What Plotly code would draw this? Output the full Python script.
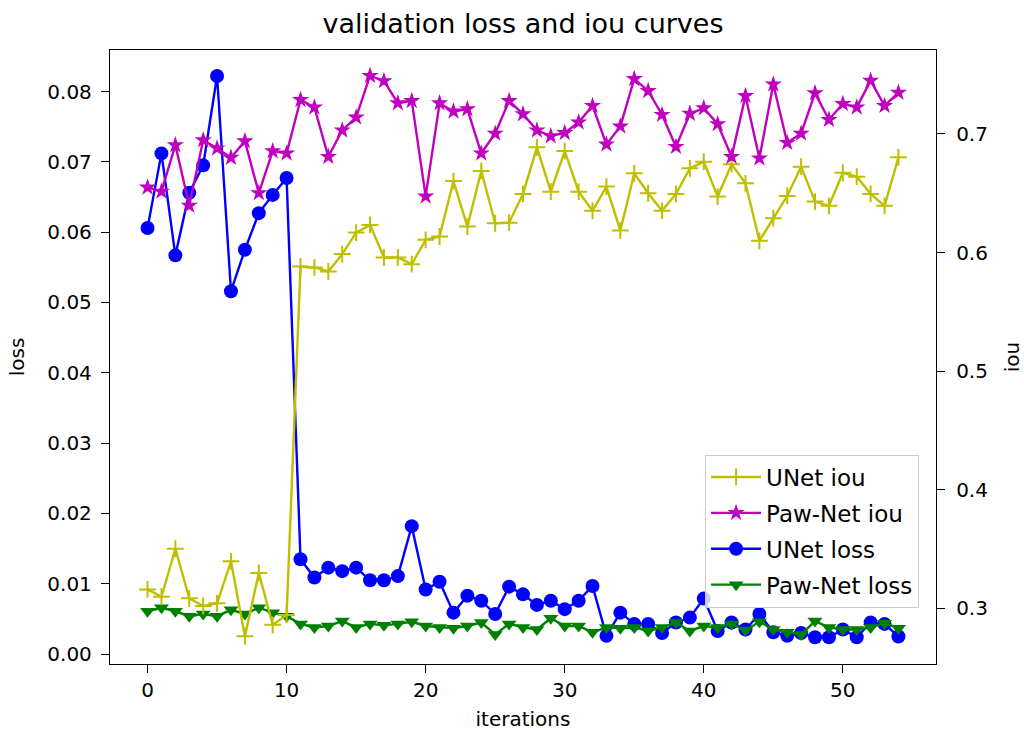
import plotly.graph_objects as go

iterations = list(range(55))

unet_loss = [0.0606, 0.0712, 0.0567, 0.0656, 0.0695, 0.0822, 0.0516, 0.0575, 0.0627, 0.0653, 0.0677,
             0.0135, 0.0109, 0.0123, 0.0118, 0.0123, 0.0105, 0.0105, 0.0111, 0.0182, 0.0092,
             0.0103, 0.0059, 0.0083, 0.0076, 0.0057, 0.0096, 0.0085, 0.0070, 0.0076, 0.0064,
             0.0076, 0.0097, 0.0026, 0.0059, 0.0043, 0.0043, 0.0030, 0.0045, 0.0052, 0.0079,
             0.0033, 0.0045, 0.0035, 0.0057, 0.0031, 0.0026, 0.0030, 0.0024, 0.0024, 0.0035,
             0.0024, 0.0045, 0.0043, 0.0025]

pawnet_loss = [0.0061, 0.0066, 0.0061, 0.0054, 0.0057, 0.0054, 0.0063, 0.0057, 0.0066, 0.0059, 0.0054,
               0.0043, 0.0038, 0.0040, 0.0047, 0.0038, 0.0043, 0.0041, 0.0043, 0.0046, 0.0040,
               0.0038, 0.0037, 0.0040, 0.0045, 0.0028, 0.0043, 0.0038, 0.0035, 0.0051, 0.0040,
               0.0040, 0.0031, 0.0038, 0.0037, 0.0038, 0.0033, 0.0038, 0.0045, 0.0033, 0.0040,
               0.0038, 0.0043, 0.0034, 0.0046, 0.0035, 0.0031, 0.0028, 0.0047, 0.0038, 0.0035,
               0.0035, 0.0038, 0.0044, 0.0037]

unet_iou = [0.3159, 0.3097, 0.3502, 0.3084, 0.3019, 0.3042, 0.3396, 0.2763, 0.3298, 0.2860, 0.2944,
            0.5882, 0.5874, 0.5840, 0.5987, 0.6168, 0.6233, 0.5958, 0.5958, 0.5902, 0.6107,
            0.6135, 0.6603, 0.6219, 0.6688, 0.6247, 0.6252, 0.6494, 0.6887, 0.6513, 0.6856,
            0.6513, 0.6352, 0.6556, 0.6185, 0.6668, 0.6500, 0.6352, 0.6494, 0.6710, 0.6766,
            0.6472, 0.6745, 0.6584, 0.6099, 0.6290, 0.6477, 0.6724, 0.6430, 0.6394, 0.6673,
            0.6640, 0.6494, 0.6394, 0.6803]

pawnet_iou = [0.6549, 0.6515, 0.6906, 0.6396, 0.6948, 0.6879, 0.6800, 0.6940, 0.6502, 0.6856, 0.6837,
              0.7288, 0.7224, 0.6808, 0.7031, 0.7140, 0.7491, 0.7447, 0.7260, 0.7279, 0.6474,
              0.7260, 0.7190, 0.7210, 0.6837, 0.7004, 0.7279, 0.7168, 0.7031, 0.6982, 0.7009,
              0.7098, 0.7238, 0.6912, 0.7064, 0.7464, 0.7363, 0.7162, 0.6892, 0.7171, 0.7218,
              0.7084, 0.6808, 0.7321, 0.6795, 0.7419, 0.6926, 0.7004, 0.7344, 0.7120, 0.7254,
              0.7224, 0.7450, 0.7238, 0.7349]

x_ticks = [0, 10, 20, 30, 40, 50]
loss_ticks = [0.00, 0.01, 0.02, 0.03, 0.04, 0.05, 0.06, 0.07, 0.08]
iou_ticks = [0.3, 0.4, 0.5, 0.6, 0.7]

FONT = "DejaVu Sans"
LW = 2.4

fig = go.Figure()
fig.add_trace(go.Scatter(x=iterations, y=unet_iou, name="UNet iou", yaxis="y2", mode="lines+markers",
                         legendgroup="a",
                         line=dict(color="#bfbf00", width=LW),
                         marker=dict(symbol="cross-thin", size=12, color="#bfbf00",
                                     line=dict(color="#bfbf00", width=2))))
fig.add_trace(go.Scatter(x=iterations, y=pawnet_iou, name="Paw-Net iou", yaxis="y2", mode="lines+markers",
                         legendgroup="b",
                         line=dict(color="#bf00bf", width=LW),
                         marker=dict(symbol="star", size=13, color="#bf00bf")))
fig.add_trace(go.Scatter(x=iterations, y=unet_loss, name="UNet loss", yaxis="y", mode="lines+markers",
                         legendgroup="c",
                         line=dict(color="#0000ff", width=LW),
                         marker=dict(symbol="circle", size=14, color="#0000ff")))
fig.add_trace(go.Scatter(x=iterations, y=pawnet_loss, name="Paw-Net loss", yaxis="y", mode="lines+markers",
                         legendgroup="d",
                         line=dict(color="#008000", width=LW),
                         marker=dict(symbol="triangle-down", size=13, color="#008000")))

axis_common = dict(showgrid=False, zeroline=False, showline=True, linecolor="black", linewidth=1.3,
                   ticks="outside", ticklen=8, tickwidth=1.3, tickcolor="black", automargin=False,
                   tickfont=dict(family=FONT, size=20, color="#000000"))

fig.update_layout(
    width=1024, height=736,
    margin=dict(l=110, r=88, t=50, b=72),
    paper_bgcolor="white", plot_bgcolor="white",
    font=dict(family=FONT, color="#000000"),
    title=dict(text="validation loss and iou curves", x=0.5, xref="paper", xanchor="center",
               y=1 - 24 / 736, yanchor="middle", font=dict(family=FONT, size=27, color="#000000")),
    xaxis=dict(range=[-2.7, 56.7], tickvals=x_ticks, mirror=True,
               title=dict(text="iterations", font=dict(family=FONT, size=20), standoff=10),
               **axis_common),
    yaxis=dict(range=[-0.0014, 0.0859], tickvals=loss_ticks, tickformat=".2f", ticklabelstandoff=5,
               title=dict(text="loss", font=dict(family=FONT, size=20), standoff=17),
               **axis_common),
    yaxis2=dict(range=[0.253, 0.7708], tickvals=iou_ticks, tickformat=".1f", overlaying="y", side="right",
                ticklabelstandoff=7,
                title=dict(text="iou", font=dict(family=FONT, size=20), standoff=19),
                **axis_common),
    showlegend=True,
    legend=dict(x=0.9795, y=0.092, xanchor="right", yanchor="bottom",
                bgcolor="rgba(255,255,255,0.8)", bordercolor="#cccccc", borderwidth=1,
                font=dict(family=FONT, size=23, color="#000000"), tracegroupgap=3,
                itemwidth=50, traceorder="grouped"),
)

fig.write_html("out.html")
